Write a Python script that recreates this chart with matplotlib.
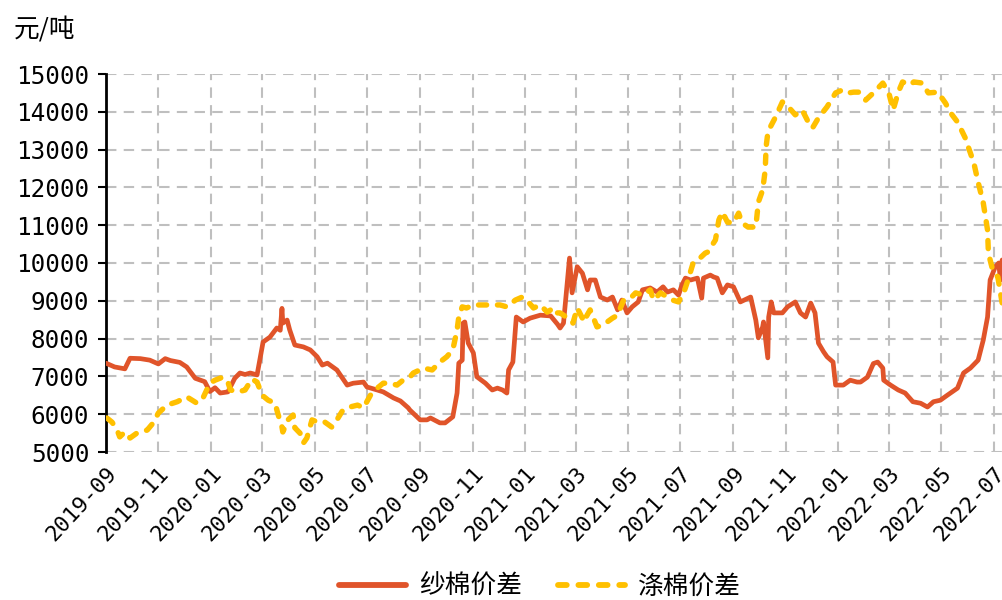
import matplotlib
matplotlib.use("Agg")
import matplotlib.pyplot as plt
import matplotlib.transforms as mtransforms
import pandas as pd

# ---- data (days since 2019-09-01, value in 元/吨) ----
start_date = "2019-09-01"

yarn_days = [0, 10, 22, 28, 40, 51, 61, 69, 75, 86, 94, 104, 115, 121, 127, 133, 142, 150, 156, 162,
             168, 176, 183, 191, 199, 203, 205, 206, 211, 214, 220, 230, 238, 246, 252, 258, 269, 281,
             288, 300, 304, 316, 323, 335, 343, 352, 354, 366, 374, 378, 389, 395, 404, 409, 411, 415,
             416, 418, 422, 428, 432, 442, 450, 456, 462, 467, 469, 474, 478, 486, 494, 506, 518, 526,
             529, 533, 540, 543, 549, 555, 561, 564, 570, 576, 584, 590, 596, 601, 607, 613, 620, 625,
             634, 642, 649, 654, 661, 667, 671, 675, 681, 689, 694, 696, 704, 708, 712, 718, 724, 731,
             739, 751, 757, 760, 765, 766, 771, 772, 775, 778, 788, 794, 803, 809, 815, 821, 826, 830,
             836, 840, 847, 850, 859, 867, 875, 879, 887, 894, 899, 905, 906, 914, 923, 931, 940, 949,
             957, 964, 972, 980, 992, 999, 1007, 1016, 1022, 1027, 1030, 1036, 1040, 1042, 1044]
yarn_spread = [7350, 7250, 7200, 7480, 7470, 7430, 7330, 7470, 7420, 7370, 7250, 6950, 6860, 6600, 6700,
               6560, 6590, 6950, 7090, 7050, 7090, 7040, 7910, 8040, 8280, 8220, 8800, 8410, 8490, 8230,
               7830, 7780, 7700, 7520, 7300, 7350, 7170, 6770, 6820, 6850, 6720, 6640, 6590, 6430, 6350,
               6170, 6110, 5850, 5850, 5900, 5770, 5770, 5930, 6560, 7350, 7430, 8410, 8440, 7880, 7620,
               6990, 6820, 6640, 6690, 6640, 6560, 7170, 7380, 8570, 8440, 8540, 8620, 8600, 8380, 8280,
               8410, 10130, 9210, 9900, 9730, 9290, 9550, 9550, 9100, 9020, 9100, 8760, 9020, 8680, 8840,
               8970, 9290, 9340, 9230, 9370, 9230, 9290, 9150, 9420, 9600, 9550, 9600, 9070, 9600, 9680,
               9630, 9600, 9210, 9420, 9370, 8970, 9100, 8490, 8020, 8310, 8440, 7490, 8570, 8970, 8680,
               8680, 8840, 8970, 8680, 8570, 8940, 8680, 7880, 7650, 7520, 7380, 6770, 6770, 6900, 6850,
               6850, 6980, 7340, 7380, 7220, 6900, 6770, 6640, 6560, 6330, 6290, 6190, 6330, 6370, 6500,
               6690, 7090, 7220, 7430, 7960, 8570, 9550, 9900, 10000, 9550, 10080]

poly_days = [1, 7, 13, 16, 22, 28, 36, 48, 55, 61, 71, 83, 94, 106, 113, 121, 127, 136, 142, 145,
             154, 162, 170, 176, 182, 189, 197, 200, 205, 206, 212, 218, 220, 226, 230, 234, 240, 249,
             255, 263, 269, 276, 284, 293, 300, 308, 316, 323, 331, 339, 346, 354, 358, 370, 380, 389,
             397, 404, 409, 411, 415, 420, 428, 444, 452, 459, 467, 477, 485, 492, 498, 506, 514, 518,
             521, 524, 529, 533, 541, 544, 549, 555, 556, 564, 568, 572, 579, 590, 596, 603, 611, 617,
             626, 634, 638, 646, 654, 660, 667, 673, 678, 684, 692, 698, 701, 710, 714, 718, 724, 731,
             737, 741, 748, 757, 760, 765, 768, 769, 771, 774, 780, 788, 795, 803, 811, 817, 823, 830,
             840, 850, 858, 865, 871, 877, 885, 894, 905, 912, 917, 923, 928, 937, 941, 951, 958, 969,
             978, 984, 992, 1001, 1005, 1011, 1016, 1022, 1027, 1028, 1033, 1039, 1044]
poly_spread = [5900, 5790, 5580, 5400, 5530, 5370, 5500, 5580, 5770, 6030, 6240, 6330, 6460, 6290, 6430,
               6820, 6900, 6980, 6850, 6640, 6590, 6640, 6930, 6850, 6500, 6370, 6290, 6030, 5660, 5530,
               5850, 5980, 5640, 5500, 5240, 5370, 5850, 5770, 5790, 5660, 5850, 6110, 6190, 6240, 6170,
               6500, 6690, 6820, 6820, 6770, 6900, 6980, 7090, 7220, 7170, 7380, 7520, 7700, 8230, 8570,
               8840, 8810, 8890, 8890, 8890, 8890, 8840, 9020, 9100, 8970, 8810, 8890, 8700, 8760, 8810,
               8680, 8680, 8620, 8490, 8410, 8810, 8540, 8440, 8760, 8540, 8310, 8360, 8540, 8620, 9020,
               9070, 9210, 9150, 9290, 9020, 9210, 9100, 9020, 8970, 9210, 9550, 10000, 10130, 10260, 10290,
               10610, 11140, 11350, 11080, 11060, 11320, 11060, 10950, 10950, 11610, 11930, 12460, 13070,
               13440, 13600, 13860, 14260, 14130, 13920, 14050, 13780, 13570, 13840, 14130, 14500, 14580,
               14500, 14520, 14520, 14310, 14500, 14760, 14500, 14050, 14520, 14790, 14710, 14790, 14760,
               14500, 14520, 14230, 13970, 13730, 13310, 13040, 12650, 12140, 11590, 10870, 10260, 9810,
               9630, 8940]

series_names = ["纱棉价差", "涤棉价差"]
unit_label = "元/吨"
y_ticks = [5000, 6000, 7000, 8000, 9000, 10000, 11000, 12000, 13000, 14000, 15000]
x_tick_dates = ["2019-09", "2019-11", "2020-01", "2020-03", "2020-05", "2020-07", "2020-09",
                "2020-11", "2021-01", "2021-03", "2021-05", "2021-07", "2021-09", "2021-11",
                "2022-01", "2022-03", "2022-05", "2022-07"]

# ---- figure ----
plt.rcParams["font.family"] = ["DejaVu Sans Mono", "Noto Sans CJK SC"]
fig = plt.figure(figsize=(10.03, 6.0), dpi=100)
ax = fig.add_axes([106 / 1003, 1 - 452 / 600, (1003 - 106) / 1003, (452 - 74) / 600])

t0 = pd.Timestamp(start_date)
yarn_dates = t0 + pd.to_timedelta(yarn_days, unit="D")
poly_dates = t0 + pd.to_timedelta(poly_days, unit="D")

red = "#E0542A"
gold = "#FFC000"

ax.plot(yarn_dates, yarn_spread, color=red, lw=3.4, solid_joinstyle="round",
        solid_capstyle="round", label=series_names[0], zorder=3)
ax.plot(poly_dates, poly_spread, color=gold, lw=3.9, dashes=(1.5, 2.0),
        dash_capstyle="round", label=series_names[1], zorder=4)

ax.set_ylim(5000, 15000)
ax.set_yticks(y_ticks)
ax.set_xlim(t0, t0 + pd.Timedelta(days=1045))
xt = pd.to_datetime(x_tick_dates)
ax.set_xticks(xt)
ax.set_xticklabels(x_tick_dates, rotation=47, ha="right", va="top", rotation_mode="anchor")
shift = mtransforms.ScaledTranslation(-5 / 100, 0, fig.dpi_scale_trans)
for lab in ax.get_xticklabels():
    lab.set_transform(lab.get_transform() + shift)

ax.grid(True, color="#BFBFBF", lw=1.5, linestyle=(0, (5, 3.5)))
ax.set_axisbelow(True)
for s in ["top", "right", "bottom"]:
    ax.spines[s].set_visible(False)
ax.spines["left"].set_linewidth(2)
ax.spines["left"].set_color("black")
ax.tick_params(axis="y", length=6, width=1.5, pad=6, labelsize=17.5, colors="black")
ax.tick_params(axis="x", length=0, pad=8, labelsize=15.8)

fig.text(14 / 1003, 1 - 30 / 600, unit_label, fontsize=18.5, va="center", ha="left",
         family=["Noto Sans CJK SC", "DejaVu Sans Mono"])

leg = fig.legend(loc="center", bbox_to_anchor=(540 / 1003, 1 - 587 / 600), ncol=2, frameon=False,
                 prop={"family": ["Noto Sans CJK SC"], "size": 18.5},
                 handlelength=2.6, columnspacing=1.4, handletextpad=0.5)
for h in leg.get_lines():
    h.set_linewidth(4.2)

fig.savefig("out.png", dpi=100)
